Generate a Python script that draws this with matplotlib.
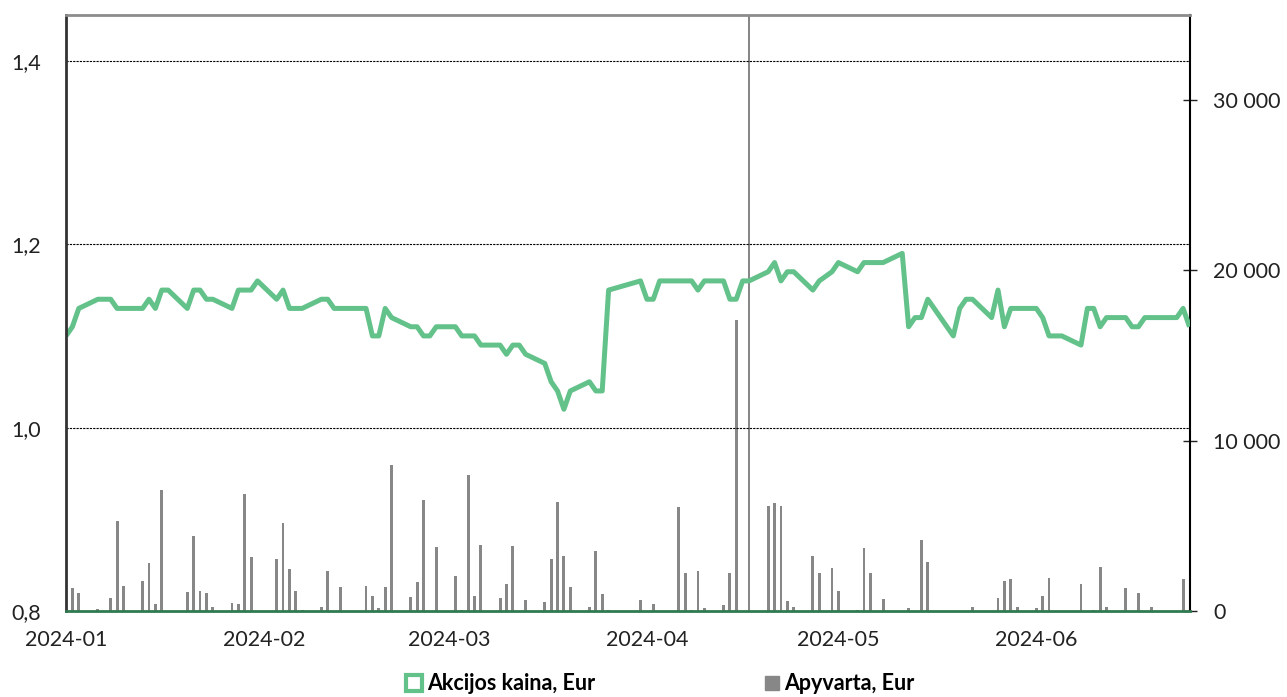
import matplotlib.pyplot as plt
import matplotlib.dates as mdates
from matplotlib.lines import Line2D
from datetime import date

plt.rcParams['font.family'] = 'Lato'
plt.rcParams['font.size'] = 15.5

GREEN = '#63c18a'
GREY = '#878787'

# Trading days and share price, Eur
days_jan = [3, 4, 5, 8, 9, 10, 11, 12, 15, 16, 17, 18, 19, 22, 23, 24, 25, 26, 29, 30, 31]
price_jan = [1.10, 1.11, 1.13, 1.14, 1.14, 1.14, 1.13, 1.13, 1.13, 1.14, 1.13,
             1.15, 1.15, 1.13, 1.15, 1.15, 1.14, 1.14, 1.13, 1.15, 1.15]
days_feb = [1, 2, 5, 6, 7, 8, 9, 12, 13, 14, 15, 19, 20, 21, 22, 23, 26, 27, 28, 29]
price_feb = [1.15, 1.16, 1.14, 1.15, 1.13, 1.13, 1.13, 1.14, 1.14, 1.13,
             1.13, 1.13, 1.10, 1.10, 1.13, 1.12, 1.11, 1.11, 1.10, 1.10]
days_mar = [1, 4, 5, 6, 7, 8, 11, 12, 13, 14, 15, 18, 19, 20, 21, 22, 25, 26, 27, 28]
price_mar = [1.11, 1.11, 1.10, 1.10, 1.10, 1.09, 1.09, 1.08, 1.09, 1.09,
             1.08, 1.07, 1.05, 1.04, 1.02, 1.04, 1.05, 1.04, 1.04, 1.15]
days_apr = [2, 3, 4, 5, 8, 9, 10, 11, 12, 15, 16, 17, 18, 19, 22, 23, 24, 25, 26, 29, 30]
price_apr = [1.16, 1.14, 1.14, 1.16, 1.16, 1.16, 1.16, 1.15, 1.16, 1.16, 1.14,
             1.14, 1.16, 1.16, 1.17, 1.18, 1.16, 1.17, 1.17, 1.15, 1.16]
days_may = [2, 3, 6, 7, 8, 9, 10, 13, 14, 15, 16, 17, 20, 21, 22, 23, 24, 27, 28, 29, 30, 31]
price_may = [1.17, 1.18, 1.17, 1.18, 1.18, 1.18, 1.18, 1.19, 1.11, 1.12, 1.12,
             1.14, 1.11, 1.10, 1.13, 1.14, 1.14, 1.12, 1.15, 1.11, 1.13, 1.13]
days_jun = [3, 4, 5, 6, 7, 10, 11, 12, 13, 14, 17, 18, 19, 20, 21, 25, 26, 27]
price_jun = [1.13, 1.12, 1.10, 1.10, 1.10, 1.09, 1.13, 1.13, 1.11,
             1.12, 1.12, 1.11, 1.11, 1.12, 1.12, 1.12, 1.13, 1.11]

# Turnover, Eur (the 04-19 bar runs off the top of the chart)
vol_dates = ['01-04', '01-05', '01-08', '01-10', '01-11', '01-12', '01-15', '01-16', '01-17',
             '01-18', '01-22', '01-23', '01-24', '01-25', '01-26', '01-29', '01-30', '01-31',
             '02-01', '02-05', '02-06', '02-07', '02-08', '02-09', '02-12', '02-13', '02-15',
             '02-19', '02-20', '02-21', '02-22', '02-23', '02-26', '02-27', '02-28',
             '03-01', '03-04', '03-05', '03-06', '03-07', '03-08', '03-11', '03-12', '03-13',
             '03-15', '03-18', '03-19', '03-20', '03-21', '03-22', '03-25', '03-26', '03-27',
             '03-28', '04-02', '04-04', '04-08', '04-09', '04-10', '04-11', '04-12', '04-15',
             '04-16', '04-17', '04-19', '04-22', '04-23', '04-24', '04-25', '04-26', '04-29',
             '04-30', '05-02', '05-03', '05-06', '05-07', '05-08', '05-10', '05-14', '05-16',
             '05-17', '05-24', '05-28', '05-29', '05-30', '05-31', '06-03', '06-04', '06-05',
             '06-10', '06-12', '06-13', '06-14', '06-17', '06-19', '06-21', '06-26']
vol_values = [1330, 1040, 100, 750, 5280, 1490, 1780, 2800, 390,
              7090, 1120, 4400, 1190, 1040, 250, 470, 390, 6890,
              3170, 3040, 5150, 2450, 1190, 60, 250, 2370, 1430,
              1490, 900, 180, 1430, 8550, 840, 1700, 6520,
              3740, 2070, 50, 7970, 900, 3890, 760, 1570, 3820,
              630, 550, 3040, 6380, 3230, 1430, 250, 3520, 980,
              50, 630, 410, 6090, 2210, 50, 2370, 180, 340,
              2210, 17080, 40000, 6150, 6360, 6150, 610, 250, 3230,
              2210, 2510, 1190, 40, 3680, 2210, 690, 160, 4170,
              2860, 250, 760, 1780, 1860, 250, 180, 900, 1920,
              1570, 40, 2570, 250, 1350, 1060, 250, 1860]

left_ticks = [0.8, 1.0, 1.2, 1.4]
right_ticks = [0, 10000, 20000, 30000]

price_x = []
price_y = []
for m, days, prices in [(1, days_jan, price_jan), (2, days_feb, price_feb), (3, days_mar, price_mar),
                        (4, days_apr, price_apr), (5, days_may, price_may), (6, days_jun, price_jun)]:
    price_x += [date(2024, m, d) for d in days]
    price_y += prices

vol_x = [date(2024, int(s[:2]), int(s[3:])) for s in vol_dates]

fig = plt.figure(figsize=(12.87, 6.97), dpi=100)
ax = fig.add_axes([66 / 1287, 1 - 611 / 697, (1189.5 - 66) / 1287, (611 - 15) / 697])
ax2 = ax.twinx()

ax2.bar(vol_x, vol_values, width=0.45, color=GREY)
ax.plot(price_x, price_y, color=GREEN, lw=3.6, solid_capstyle='butt')
ax.set_zorder(ax2.get_zorder() + 1)
ax.patch.set_visible(False)

ax.set_xlim(date(2024, 1, 3), date(2024, 6, 27))
ax.set_ylim(0.8, 1.45)
ax2.set_ylim(0, 35000)

ax.set_xticks([date(2024, m, 3) for m in range(1, 7)])
ax.xaxis.set_major_formatter(mdates.DateFormatter('%Y-%m'))
ax.set_yticks(left_ticks)
ax.set_yticklabels([f'{v:.1f}'.replace('.', ',') for v in left_ticks])
ax2.set_yticks(right_ticks)
ax2.set_yticklabels([f'{v:,}'.replace(',', ' ') for v in right_ticks])

ax.tick_params(axis='x', length=0, pad=14, colors='#222222')
ax.tick_params(axis='y', length=0, pad=18, colors='#222222')
ax2.tick_params(axis='y', direction='inout', length=10, width=1, pad=12, colors='#222222')

for v in left_ticks[1:]:
    ax.axhline(v, color='black', lw=0.8, ls=(0, (2, 1)), zorder=0)

for s in ['top', 'bottom', 'left', 'right']:
    ax2.spines[s].set_visible(False)
ax2.spines['right'].set_visible(True)
ax2.spines['right'].set_color('black')
ax2.spines['right'].set_linewidth(1.5)
ax.spines['right'].set_visible(False)
ax.spines['left'].set_color('#333333')
ax.spines['left'].set_linewidth(2)
ax.spines['top'].set_color('#8c8c8c')
ax.spines['top'].set_linewidth(2)
ax.spines['bottom'].set_color('#2f7a4e')
ax.spines['bottom'].set_linewidth(2)

handles = [
    Line2D([], [], ls='none', marker='s', markersize=12, markerfacecolor='white',
           markeredgecolor=GREEN, markeredgewidth=3),
    Line2D([], [], ls='none', marker='s', markersize=10, markerfacecolor=GREY,
           markeredgecolor=GREY),
]
fig.legend(handles, ['Akcijos kaina, Eur', 'Apyvarta, Eur'], loc='center',
           bbox_to_anchor=(660 / 1287, 1 - 684 / 697), ncol=2, frameon=False,
           prop={'weight': 'bold', 'size': 15.5}, columnspacing=7.8,
           handlelength=0.8, handletextpad=0.2, borderpad=0)

fig.savefig('out.png', dpi=100)
